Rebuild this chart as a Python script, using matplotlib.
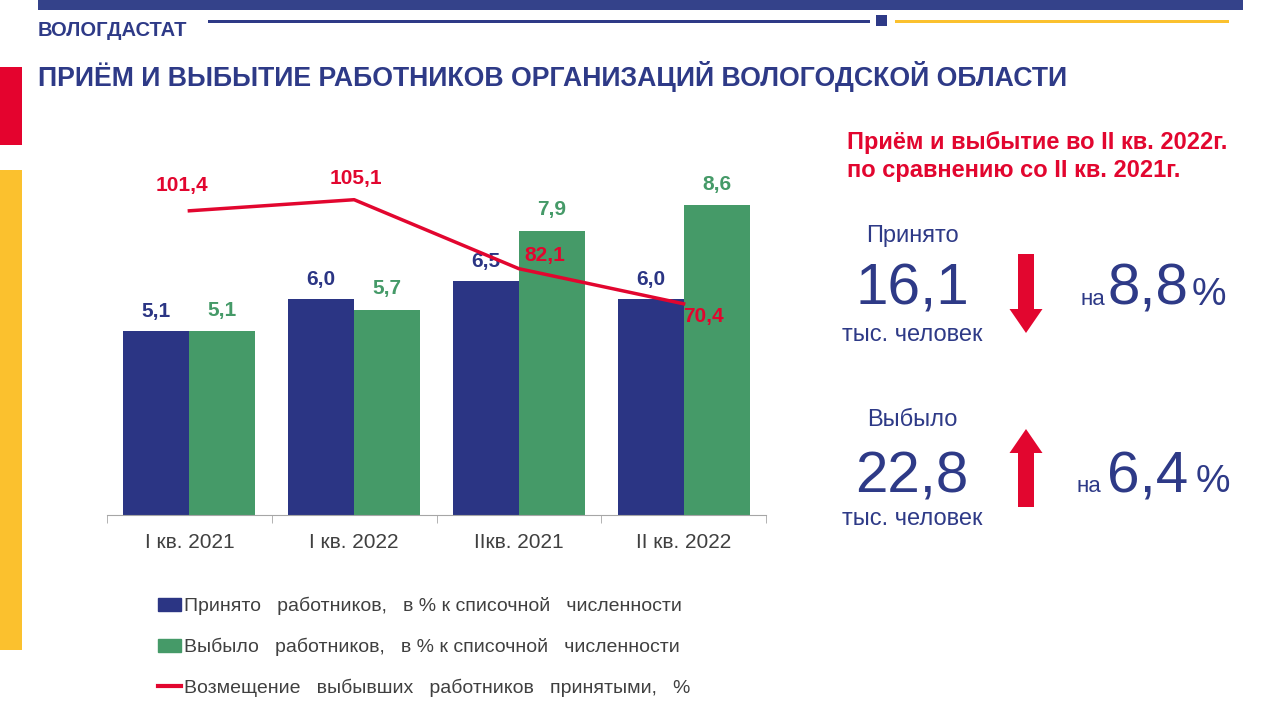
import matplotlib
matplotlib.use("Agg")
import matplotlib.pyplot as plt
import matplotlib.patches as mpatches
from matplotlib.lines import Line2D

plt.rcParams['font.family'] = ['Liberation Sans', 'DejaVu Sans']

# data
categories = ['I кв. 2021', 'I кв. 2022', 'IIкв. 2021', 'II кв. 2022']
hired = [5.1, 6.0, 6.5, 6.0]
left = [5.1, 5.7, 7.9, 8.6]
replacement = [101.4, 105.1, 82.1, 70.4]

navy = '#2B3584'
green = '#459A68'
red = '#E2062F'
yellow = '#FBC12E'
gray = '#404040'
txt_navy = '#2E3A87'

fig = plt.figure(figsize=(12.8, 7.2), dpi=100)

# overlay in pixel coordinates for decorations
deco = fig.add_axes([0, 0, 1, 1])
deco.set_xlim(0, 1280)
deco.set_ylim(720, 0)
deco.axis('off')

deco.add_patch(mpatches.Rectangle((38, 0), 1205, 10, color='#34428A', lw=0))
deco.add_patch(mpatches.Rectangle((208, 19.5), 662, 3, color='#2E3A87', lw=0))
deco.add_patch(mpatches.Rectangle((876, 15), 11, 11, color='#2E3A87', lw=0))
deco.add_patch(mpatches.Rectangle((895, 19.5), 334, 3, color=yellow, lw=0))
deco.add_patch(mpatches.Rectangle((0, 67), 22, 78, color='#E4032E', lw=0))
deco.add_patch(mpatches.Rectangle((0, 170), 22, 480, color=yellow, lw=0))

deco.text(38, 31, 'ВОЛОГДАСТАТ', fontsize=14.5, fontweight='bold',
          color=txt_navy, va='center', ha='left')
deco.text(38, 77, 'ПРИЁМ И ВЫБЫТИЕ РАБОТНИКОВ ОРГАНИЗАЦИЙ ВОЛОГОДСКОЙ ОБЛАСТИ',
          fontsize=19.2, fontweight='bold', color=txt_navy,
          va='center', ha='left')

# right panel
deco.text(847, 142, 'Приём и выбытие во II кв. 2022г.', fontsize=17,
          fontweight='bold', color=red, va='center', ha='left')
deco.text(847, 171, 'по сравнению со II кв. 2021г.', fontsize=17,
          fontweight='bold', color=red, va='center', ha='left')

deco.text(912, 236, 'Принято', fontsize=17, color=txt_navy, ha='center', va='center')
deco.text(912, 305, '16,1', fontsize=42, color=txt_navy, ha='center', va='baseline')
deco.text(912, 335, 'тыс. человек', fontsize=17, color=txt_navy, ha='center', va='center')
deco.text(1080, 305, 'на', fontsize=16, color=txt_navy, ha='left', va='baseline')
deco.text(1108, 305, '8,8', fontsize=42, color=txt_navy, ha='left', va='baseline')
deco.text(1192, 305, '%', fontsize=28, color=txt_navy, ha='left', va='baseline')

deco.text(912, 420, 'Выбыло', fontsize=17, color=txt_navy, ha='center', va='center')
deco.text(912, 492, '22,8', fontsize=42, color=txt_navy, ha='center', va='baseline')
deco.text(912, 519, 'тыс. человек', fontsize=17, color=txt_navy, ha='center', va='center')
deco.text(1077, 492, 'на', fontsize=16, color=txt_navy, ha='left', va='baseline')
deco.text(1107, 492, '6,4', fontsize=42, color=txt_navy, ha='left', va='baseline')
deco.text(1196, 492, '%', fontsize=28, color=txt_navy, ha='left', va='baseline')

deco.add_patch(mpatches.FancyArrow(1026, 254, 0, 79, width=16, head_width=33,
                                   head_length=24, length_includes_head=True,
                                   color=red, lw=0))
deco.add_patch(mpatches.FancyArrow(1026, 507, 0, -78, width=16, head_width=33,
                                   head_length=24, length_includes_head=True,
                                   color=red, lw=0))

# chart
ax = fig.add_axes([107 / 1280, 205 / 720, 659 / 1280, 360 / 720])
ax.set_facecolor('none')
x = list(range(len(categories)))
w = 0.4
b1 = ax.bar([i - w / 2 for i in x], hired, width=w, color=navy, zorder=2)
b2 = ax.bar([i + w / 2 for i in x], left, width=w, color=green, zorder=2)
ax.set_xlim(-0.5, 3.5)
ax.set_ylim(0, 10)

for rect, v in zip(b1, hired):
    ax.annotate(f'{v:.1f}'.replace('.', ','), (rect.get_x() + rect.get_width() / 2, v),
                xytext=(0, 20), textcoords='offset pixels', ha='center', va='center',
                fontsize=15, fontweight='bold', color=navy)
for rect, v in zip(b2, left):
    ax.annotate(f'{v:.1f}'.replace('.', ','), (rect.get_x() + rect.get_width() / 2, v),
                xytext=(0, 21), textcoords='offset pixels', ha='center', va='center',
                fontsize=15, fontweight='bold', color=green)

for s in ['top', 'left', 'right']:
    ax.spines[s].set_visible(False)
ax.spines['bottom'].set_color('#A6A6A6')
ax.set_yticks([])
ax.set_xticks(x)
ax.set_xticklabels(categories, fontsize=15, color=gray)
ax.tick_params(axis='x', which='major', length=0, pad=13)
ax.set_xticks([-0.5, 0.5, 1.5, 2.5, 3.5], minor=True)
ax.tick_params(axis='x', which='minor', length=6, color='#A6A6A6', direction='out')

ax2 = ax.twinx()
ax2.set_ylim(0, 120)
ax2.plot(x, replacement, color=red, lw=2.5, zorder=3)
ax2.axis('off')
offsets = [(-7, 25), (2, 21), (26, 13), (20, -13)]
for xi, v, off in zip(x, replacement, offsets):
    ax2.annotate(f'{v:.1f}'.replace('.', ','), (xi, v), xytext=off,
                 textcoords='offset pixels', ha='center', va='center',
                 fontsize=15, fontweight='bold', color=red)

handles = [mpatches.Patch(color=navy, label='Принято   работников,   в % к списочной   численности'),
           mpatches.Patch(color=green, label='Выбыло   работников,   в % к списочной   численности'),
           Line2D([0], [0], color=red, lw=3,
                  label='Возмещение   выбывших   работников   принятыми,   %')]
fig.legend(handles=handles, loc='upper left', bbox_to_anchor=(158 / 1280, 1 - 597 / 720),
           frameon=False, fontsize=14, labelcolor=gray, handlelength=1.2,
           handleheight=0.65, handletextpad=0.15, labelspacing=1.15,
           borderpad=0, borderaxespad=0)

plt.savefig('out.png', dpi=100)
